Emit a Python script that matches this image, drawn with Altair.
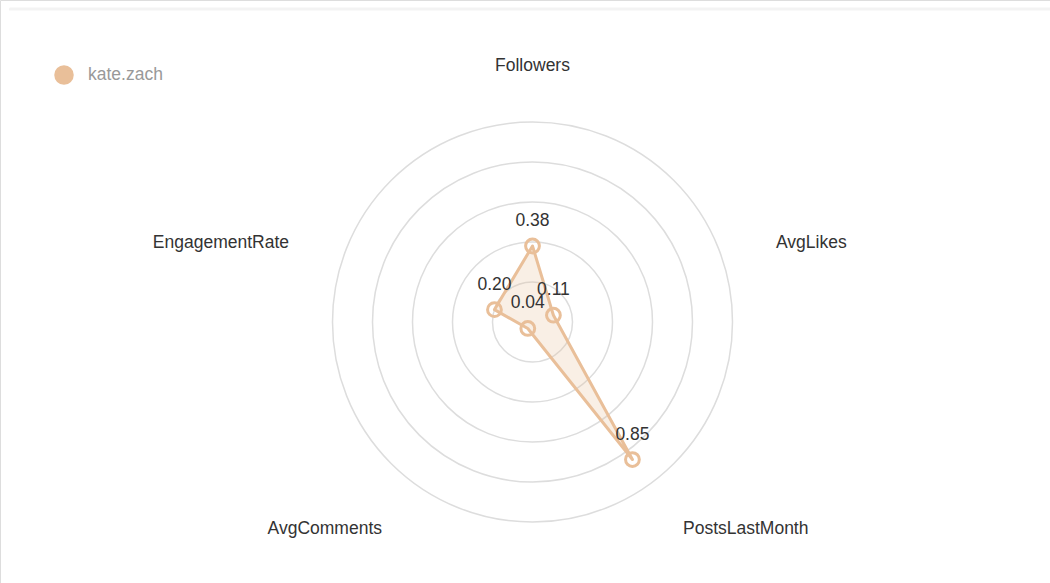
import math

import altair as alt
import pandas as pd

# Profile metrics for one account, normalised to 0..1
metrics = ["Followers", "AvgLikes", "PostsLastMonth", "AvgComments", "EngagementRate"]
values = [0.38, 0.11, 0.85, 0.04, 0.20]
series_name = "kate.zach"
ring_levels = [0.2, 0.4, 0.6, 0.8, 1.0]

# Canvas geometry (pixels)
W, H = 1050, 583
R = 200          # pixels per unit of value
CX, CY = 532.5, 322
LABEL_R = 1.28   # radius of the metric labels, in value units

ACCENT = "#e9bf99"
FONT = "Liberation Sans"
FS = 17.5

n = len(metrics)
angles = [math.radians(90 - 360 / n * i) for i in range(n)]

poly = pd.DataFrame({
    "metric": metrics,
    "value": values,
    "idx": list(range(n)),
    "series": [series_name] * n,
    "x": [v * math.cos(a) for v, a in zip(values, angles)],
    "y": [v * math.sin(a) for v, a in zip(values, angles)],
    "label": [f"{v:.2f}" for v in values],
})


def side(a):
    c = math.cos(a)
    return "center" if abs(c) < 0.01 else ("left" if c > 0 else "right")


axis_labels = pd.DataFrame({
    "metric": metrics,
    "x": [LABEL_R * math.cos(a) for a in angles],
    "y": [LABEL_R * math.sin(a) for a in angles],
    "side": [side(a) for a in angles],
})

# Vega's circle symbol has diameter sqrt(size), so size = (2r)^2
rings = pd.DataFrame({
    "level": ring_levels,
    "x": [0.0] * len(ring_levels),
    "y": [0.0] * len(ring_levels),
    "size": [(2 * lv * R) ** 2 for lv in ring_levels],
})

xs = alt.Scale(domain=[-CX / R, (W - CX) / R], range=[0, W], nice=False, zero=False)
ys = alt.Scale(domain=[-(H - CY) / R, CY / R], range=[H, 0], nice=False, zero=False)
X = alt.X("x:Q", scale=xs, axis=None)
Y = alt.Y("y:Q", scale=ys, axis=None)

series_df = pd.DataFrame({"series": [series_name]})

# Thin strip along the top of the card
top_strip = alt.Chart(series_df).mark_rect(
    color="#f3f3f3", cornerRadiusTopLeft=2
).encode(x=alt.value(9), x2=alt.value(W), y=alt.value(7.5), y2=alt.value(10.5))

ring_layer = alt.Chart(rings).mark_point(
    shape="circle", filled=False, stroke="#dddddd", strokeWidth=1.5, opacity=1
).encode(x=X, y=Y, size=alt.Size("size:Q", scale=None, legend=None))

area_layer = alt.Chart(poly).mark_line(
    interpolate="linear-closed", stroke=ACCENT, strokeWidth=3,
    fill=ACCENT, fillOpacity=0.25, strokeJoin="round",
).encode(x=X, y=Y, order=alt.Order("idx:Q"))

point_layer = alt.Chart(poly).mark_point(
    shape="circle", filled=False, size=190, strokeWidth=3, opacity=1, color=ACCENT
).encode(x=X, y=Y)

value_layer = alt.Chart(poly).mark_text(
    dy=-25, fontSize=FS, font=FONT, color="#333333", baseline="middle"
).encode(x=X, y=Y, text="label:N")

metric_layers = [
    alt.Chart(axis_labels).transform_filter(alt.datum.side == s).mark_text(
        align=s, baseline="middle", fontSize=FS, font=FONT, color="#333333"
    ).encode(x=X, y=Y, text="metric:N")
    for s in ["left", "center", "right"]
]

# Series key in the top-left corner
key_dot = alt.Chart(series_df).mark_point(
    shape="circle", filled=True, size=380, color=ACCENT, opacity=1
).encode(x=alt.value(64), y=alt.value(75))

key_text = alt.Chart(series_df).mark_text(
    align="left", baseline="middle", fontSize=FS, font=FONT, color="#999999"
).encode(x=alt.value(88), y=alt.value(75), text="series:N")

chart = alt.layer(
    top_strip, ring_layer, area_layer, point_layer, value_layer, *metric_layers,
    key_dot, key_text,
).properties(
    width=W, height=H, padding=0,
    autosize=alt.AutoSizeParams(type="none"),
).configure_view(
    stroke="transparent", strokeWidth=0
).configure(background="white")

chart.save("out.html", embed_options={"renderer": "svg", "actions": False})
